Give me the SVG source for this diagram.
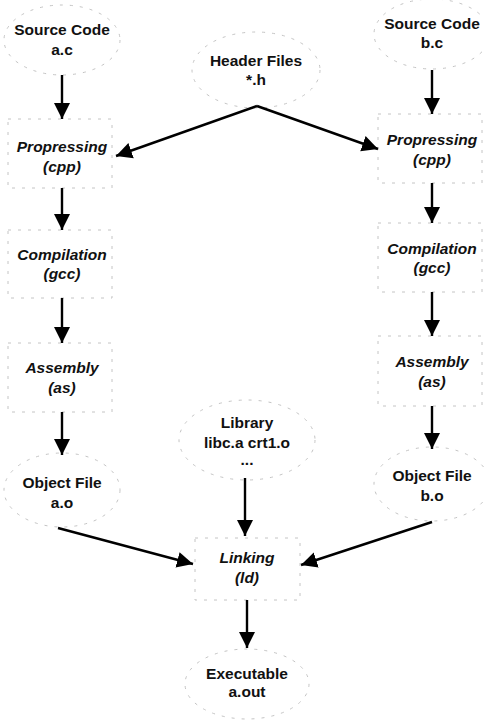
<svg xmlns="http://www.w3.org/2000/svg" width="484" height="720" viewBox="0 0 484 720">
<style>
.t{font-family:"Liberation Sans",Arial,sans-serif;font-weight:bold;font-size:15.5px;fill:#111;text-anchor:middle}
.i{font-style:italic}
.o{fill:none;stroke:#c4c4c4;stroke-width:1;stroke-dasharray:3 7}
.c{fill:none;stroke:#000;stroke-width:2.4;marker-end:url(#ah)}
</style>
<defs>
<marker id="ah" markerUnits="userSpaceOnUse" markerWidth="16" markerHeight="20" viewBox="0 0 16 20" refX="16" refY="10" orient="auto">
<path d="M0,2 L16,10 L0,18 Z" fill="#000"/>
</marker>
</defs>
<g id="srcA"><ellipse class="o" cx="62" cy="40" rx="58" ry="35"/><text class="t" x="62" y="35">Source Code</text><text class="t" x="62" y="55">a.c</text></g>
<g id="srcB"><ellipse class="o" cx="432" cy="34" rx="58" ry="35"/><text class="t" x="432" y="29">Source Code</text><text class="t" x="432" y="48">b.c</text></g>
<g id="hdr"><ellipse class="o" cx="256" cy="70" rx="64" ry="38"/><text class="t" x="256" y="66">Header Files</text><text class="t" x="256" y="85">*.h</text></g>
<g id="cppA"><rect class="o" x="8" y="119" width="104" height="69"/><text class="t i" x="62" y="152">Propressing</text><text class="t i" x="62" y="172">(cpp)</text></g>
<g id="cppB"><rect class="o" x="378" y="114" width="104" height="69"/><text class="t i" x="432" y="145">Propressing</text><text class="t i" x="432" y="165">(cpp)</text></g>
<g id="gccA"><rect class="o" x="8" y="230" width="104" height="68"/><text class="t i" x="62" y="260">Compilation</text><text class="t i" x="62" y="279">(gcc)</text></g>
<g id="gccB"><rect class="o" x="378" y="223" width="104" height="69"/><text class="t i" x="432" y="254">Compilation</text><text class="t i" x="432" y="273">(gcc)</text></g>
<g id="asA"><rect class="o" x="8" y="343" width="104" height="69"/><text class="t i" x="62" y="373">Assembly</text><text class="t i" x="62" y="393">(as)</text></g>
<g id="asB"><rect class="o" x="378" y="336" width="104" height="70"/><text class="t i" x="432" y="367">Assembly</text><text class="t i" x="432" y="387">(as)</text></g>
<g id="objA"><ellipse class="o" cx="62" cy="490" rx="58" ry="37"/><text class="t" x="62" y="488">Object File</text><text class="t" x="62" y="508">a.o</text></g>
<g id="objB"><ellipse class="o" cx="432" cy="484" rx="58" ry="37"/><text class="t" x="432" y="481">Object File</text><text class="t" x="432" y="501">b.o</text></g>
<g id="lib"><ellipse class="o" cx="247" cy="440" rx="68" ry="40"/><text class="t" x="247" y="428">Library</text><text class="t" x="247" y="448">libc.a crt1.o</text><text class="t" x="247" y="465">...</text></g>
<g id="ld"><rect class="o" x="195" y="538" width="105" height="62"/><text class="t i" x="247" y="563">Linking</text><text class="t i" x="247" y="583">(ld)</text></g>
<g id="exe"><ellipse class="o" cx="247" cy="684" rx="62" ry="35"/><text class="t" x="247" y="679">Executable</text><text class="t" x="247" y="697">a.out</text></g>
<g id="connectors">
<line class="c" x1="62" y1="75" x2="62" y2="119"/>
<line class="c" x1="62" y1="188" x2="62" y2="230"/>
<line class="c" x1="62" y1="298" x2="62" y2="343"/>
<line class="c" x1="62" y1="412" x2="62" y2="455"/>
<line class="c" x1="432" y1="70" x2="432" y2="114"/>
<line class="c" x1="432" y1="183" x2="432" y2="223"/>
<line class="c" x1="432" y1="292" x2="432" y2="336"/>
<line class="c" x1="432" y1="406" x2="432" y2="449"/>
<path class="c" d="M257,106 L116,156"/>
<path class="c" d="M257,106 L378,149"/>
<line class="c" x1="245" y1="478" x2="245" y2="536"/>
<line class="c" x1="58" y1="528" x2="193" y2="564"/>
<line class="c" x1="432" y1="522" x2="301" y2="565"/>
<line class="c" x1="247" y1="600" x2="247" y2="648"/>
</g>
</svg>
